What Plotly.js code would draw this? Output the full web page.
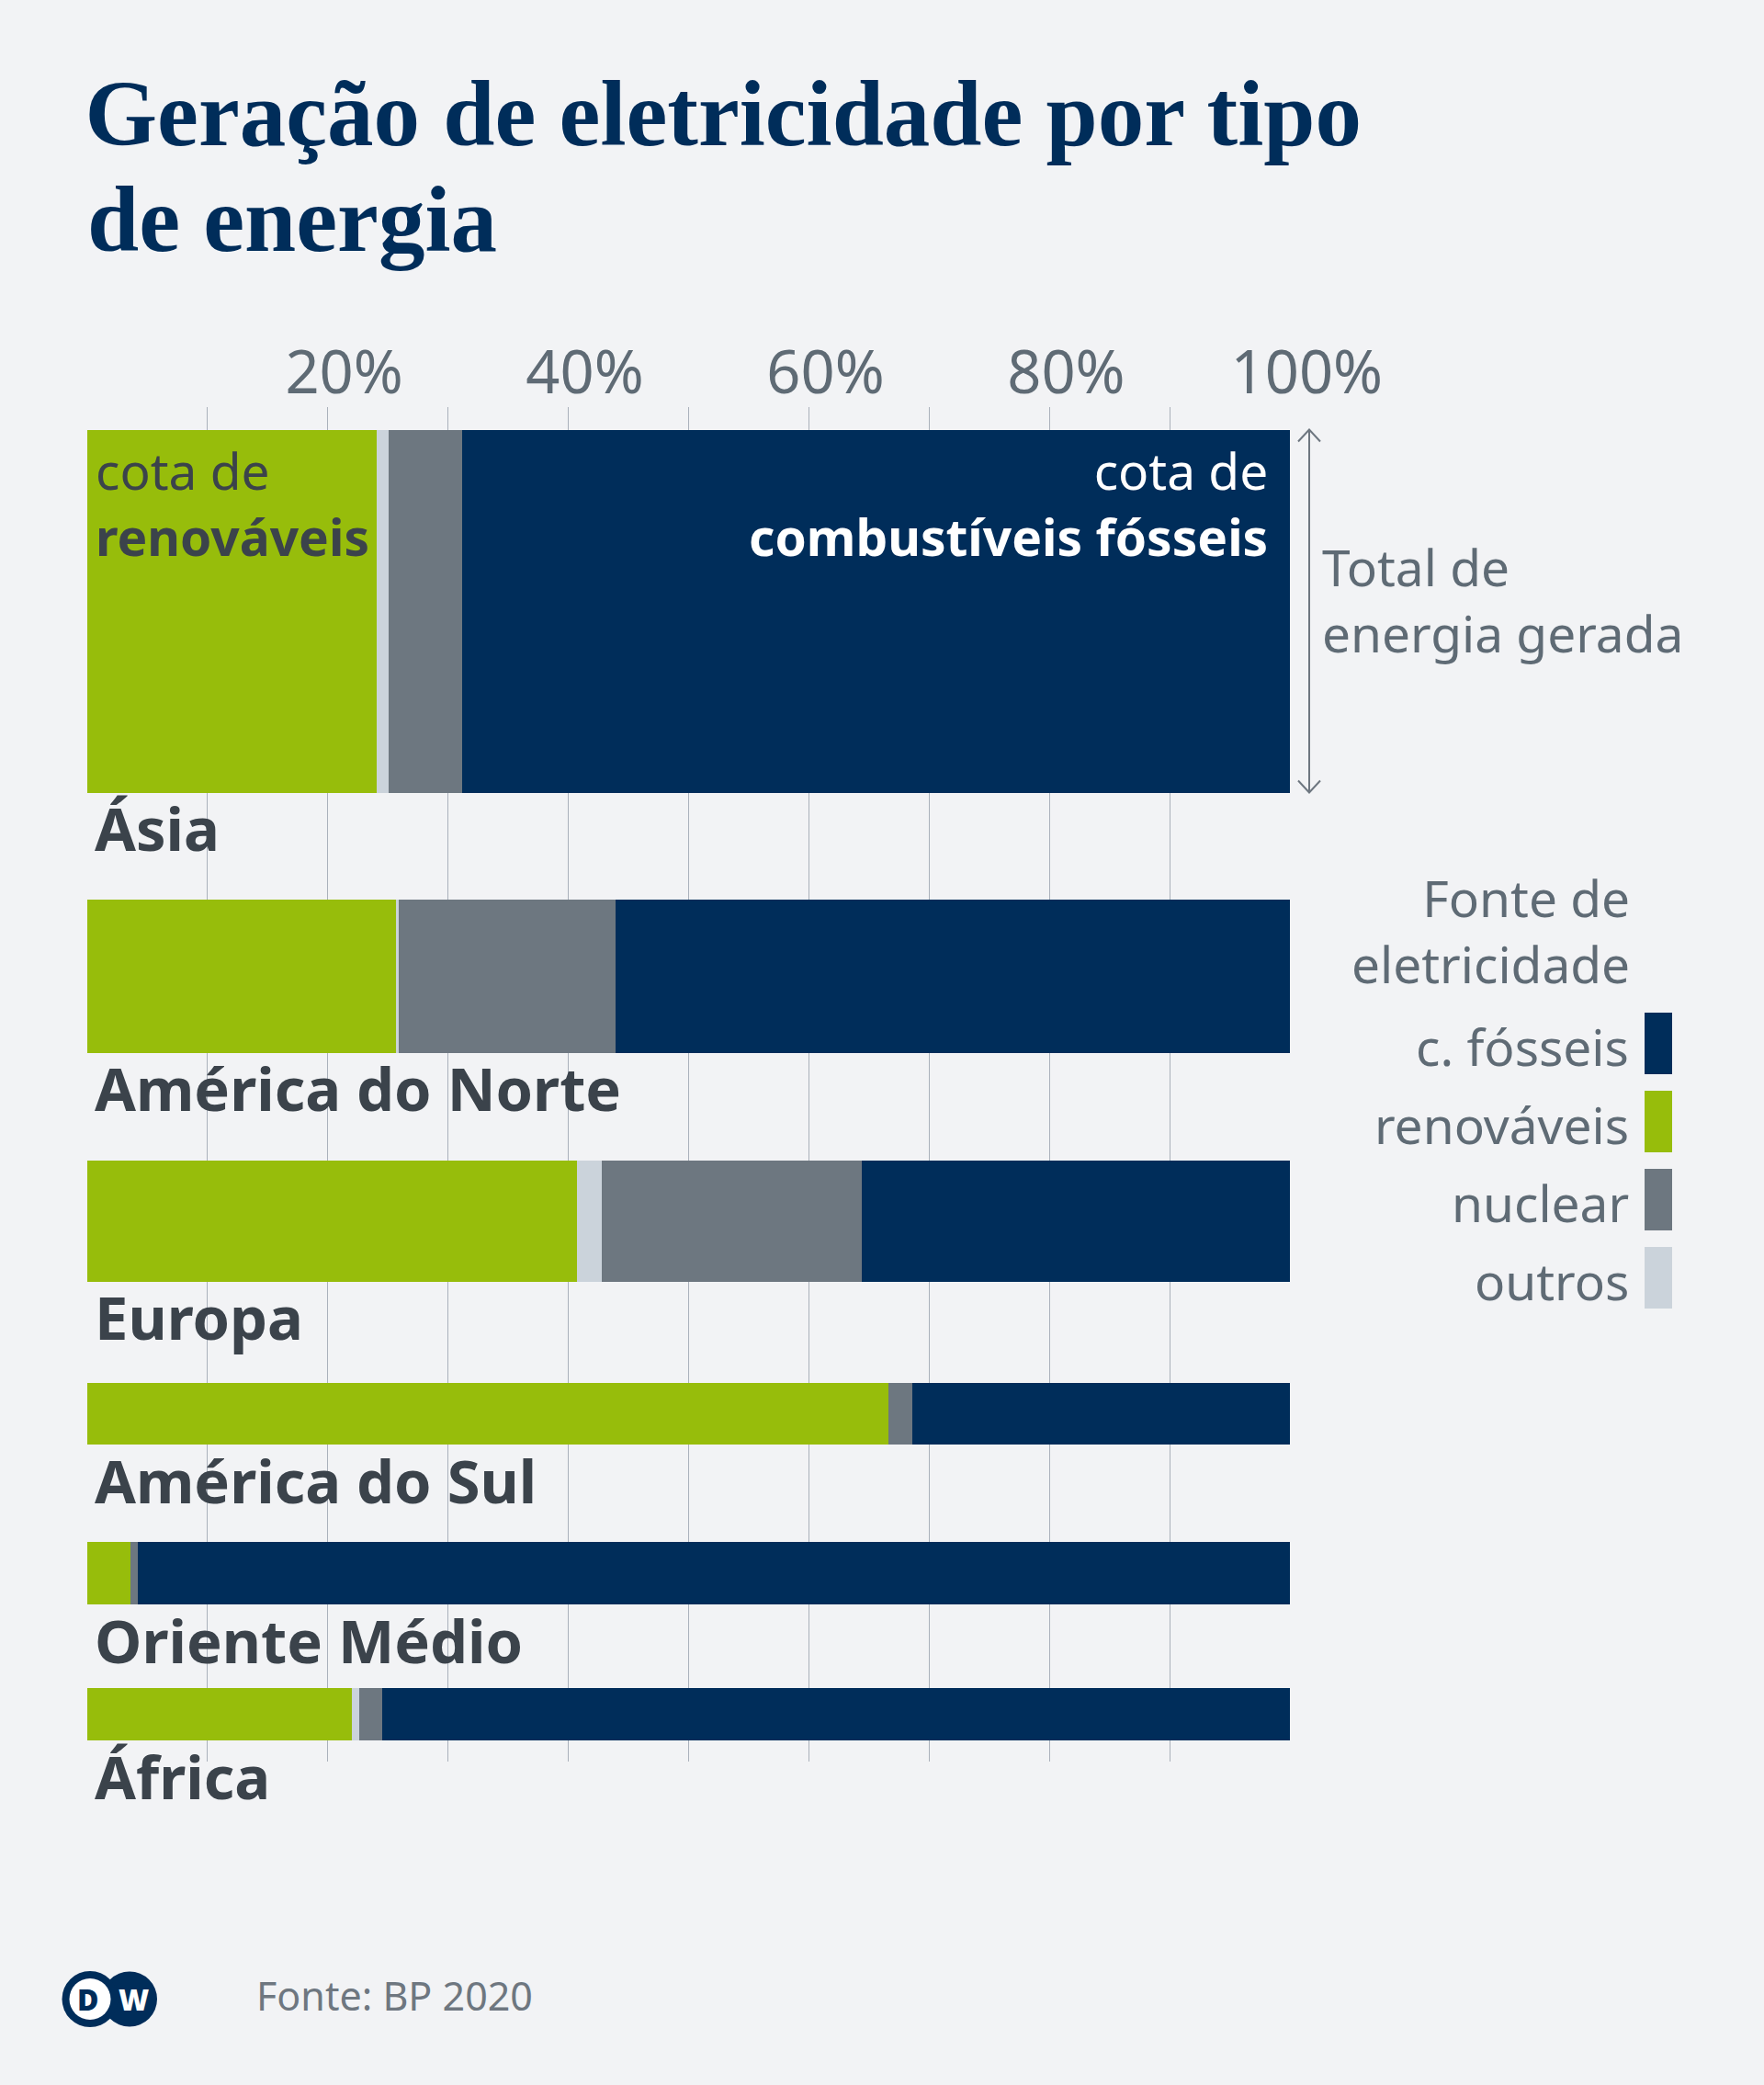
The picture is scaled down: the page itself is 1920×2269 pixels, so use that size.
<!DOCTYPE html>
<html><head><meta charset="utf-8">
<script src="https://cdn.plot.ly/plotly-3.0.1.min.js"></script>
<style>html,body{margin:0;padding:0;background:#f2f3f5;} #chart{width:1920px;height:2269px;}</style>
</head><body><div id="chart"></div>
<script>
// ---------- data ----------
const regions = ['Ásia', 'América do Norte', 'Europa', 'América do Sul', 'Oriente Médio', 'África'];
// relative total electricity generated (drawn as bar thickness), Ásia = 100
const totalRel = [100, 42.3, 33.4, 17.2, 17.2, 14.4];
// shares in % of each region's generation
const renovaveis = [24.1, 25.7, 40.7, 66.6, 3.6, 22.0];
const outros     = [1.0, 0.2, 2.1, 0.0, 0.0, 0.6];
const nuclear    = [6.1, 18.0, 21.6, 2.0, 0.6, 1.9];
const fosseis    = [68.8, 56.1, 35.6, 31.4, 95.8, 75.5];
const seriesNames = ['renováveis', 'outros', 'nuclear', 'c. fósseis'];
const tickVals = [0, 10, 20, 30, 40, 50, 60, 70, 80, 90, 100];
const tickText = ['', '', '20%', '', '40%', '', '60%', '', '80%', '', '100%'];

// ---------- layout constants ----------
const W = 1920, H = 2269;
const L = 94, R = 515, T = 443, B = 352;
const PW = W - L - R, PH = H - T - B;          // plot area in px
const pxPerUnit = 3.95;                        // bar thickness per unit of totalRel
const topPad = 24.5;
const gaps = [116, 117, 110, 106, 91];
const colors = ['#97bd0b', '#cbd3db', '#6d7780', '#002d5a'];
const darkText = '#3b434b', grayText = '#5f6b75', footGray = '#6e7780';
const FONT = 'Noto Sans';
const MID = 0.388;                              // Noto Sans: box centre above baseline (em)

const xp = X => (X - L) / PW;                   // page x -> paper x
const yp = Y => (T + PH - Y) / PH;              // page y -> paper y
const dy2p = v => (PH - v) / PH;                // y-axis (px units) -> paper

// bar geometry in y-axis units (1 unit = 1 px, measured from plot top)
const heights = totalRel.map(v => v * pxPerUnit);
const tops = [], centers = [], bottoms = [];
let cur = topPad;
heights.forEach((h, i) => {
  tops.push(cur); centers.push(cur + h / 2); bottoms.push(cur + h);
  cur += h + (gaps[i] || 0);
});

const seriesVals = [renovaveis, outros, nuclear, fosseis];
const traces = seriesVals.map((vals, k) => ({
  type: 'bar', orientation: 'h', name: seriesNames[k],
  x: vals, y: centers, width: heights,
  marker: {color: colors[k], line: {width: 0}},
  hoverinfo: 'skip', showlegend: false
}));

const ann = [];
const shapes = [];

// title second line
ann.push({text: 'de energia', xref: 'paper', yref: 'paper', x: xp(92.5), y: yp(273.3 - 0.3375 * 101),
  xanchor: 'left', yanchor: 'middle', showarrow: false,
  font: {family: 'Liberation Serif', size: 101, color: '#002d5a', weight: 'bold'}});

// region labels
regions.forEach((r, i) => {
  ann.push({text: r, xref: 'paper', yref: 'paper', x: 0, xshift: 7,
    y: dy2p(bottoms[i] + 64 - MID * 65), xanchor: 'left', yanchor: 'middle', showarrow: false,
    font: {family: FONT, size: 65, color: darkText, weight: 'bold'}});
});

// in-bar explanations (Ásia); two-line blocks centred on the mid baseline
const inSize = 55;
ann.push({text: 'cota de<br><b>renováveis</b>', xref: 'paper', yref: 'paper', x: 0, xshift: 8,
  y: dy2p(tops[0] + 101.6 - MID * inSize), xanchor: 'left', yanchor: 'middle', align: 'left',
  showarrow: false, font: {family: FONT, size: inSize, color: darkText}});
ann.push({text: 'cota de<br><b>combustíveis fósseis</b>', xref: 'paper', yref: 'paper', x: 1, xshift: -23,
  y: dy2p(tops[0] + 101.6 - MID * inSize), xanchor: 'right', yanchor: 'middle', align: 'right',
  showarrow: false, font: {family: FONT, size: inSize, color: '#ffffff'}});

// total arrow next to Ásia bar
const ax = xp(1425), hw = 12 / PW, ah = 13 / PH;
const aTop = dy2p(tops[0]), aBot = dy2p(bottoms[0]);
shapes.push({type: 'line', xref: 'paper', yref: 'paper', x0: ax, x1: ax, y0: aTop, y1: aBot,
  line: {color: footGray, width: 2}});
shapes.push({type: 'path', xref: 'paper', yref: 'paper',
  path: `M ${ax - hw},${aTop - ah} L ${ax},${aTop} L ${ax + hw},${aTop - ah}`, line: {color: footGray, width: 2}});
shapes.push({type: 'path', xref: 'paper', yref: 'paper',
  path: `M ${ax - hw},${aBot + ah} L ${ax},${aBot} L ${ax + hw},${aBot + ah}`, line: {color: footGray, width: 2}});
ann.push({text: 'Total de<br>energia gerada', xref: 'paper', yref: 'paper', x: xp(1437),
  y: yp(674.2 - MID * 55), xanchor: 'left', yanchor: 'middle', align: 'left', showarrow: false,
  font: {family: FONT, size: 55, color: grayText}});

// legend (built from the series names and colours)
ann.push({text: 'Fonte de<br>eletricidade', xref: 'paper', yref: 'paper', x: xp(1776),
  y: yp(1034.2 - MID * 55), xanchor: 'right', yanchor: 'middle', align: 'right', showarrow: false,
  font: {family: FONT, size: 55, color: grayText}});
const legendOrder = [3, 0, 2, 1];
legendOrder.forEach((k, j) => {
  const top = 1102 + 85 * j;
  shapes.push({type: 'rect', xref: 'paper', yref: 'paper', x0: xp(1790), x1: xp(1820),
    y0: yp(top), y1: yp(top + 67), fillcolor: colors[k], line: {width: 0}});
  ann.push({text: seriesNames[k], xref: 'paper', yref: 'paper', x: xp(1775), y: yp(top + 58 - MID * 55),
    xanchor: 'right', yanchor: 'middle', showarrow: false, font: {family: FONT, size: 55, color: grayText}});
});

// footer
ann.push({text: 'Fonte: BP 2020', xref: 'paper', yref: 'paper', x: xp(277), y: yp(2188 - MID * 43),
  xanchor: 'left', yanchor: 'middle', showarrow: false, font: {family: FONT, size: 43, color: footGray}});
// DW logo
function circle(cx, cy, r, col) {
  return {type: 'circle', xref: 'paper', yref: 'paper', xsizemode: 'pixel', ysizemode: 'pixel',
    xanchor: xp(cx), yanchor: yp(cy), x0: -r, x1: r, y0: -r, y1: r, fillcolor: col, line: {width: 0}};
}
shapes.push(circle(141, 2175.5, 30, '#002d5a'));
shapes.push(circle(98, 2175.5, 30.5, '#002d5a'));
shapes.push(circle(98, 2175.5, 22.5, '#ffffff'));
ann.push({text: 'D', xref: 'paper', yref: 'paper', x: xp(96), y: yp(2175.5), xanchor: 'center', yanchor: 'middle',
  showarrow: false, font: {family: FONT, size: 32, color: '#002d5a', weight: 900}});
ann.push({text: 'W', xref: 'paper', yref: 'paper', x: xp(145), y: yp(2175.5), xanchor: 'center', yanchor: 'middle',
  showarrow: false, font: {family: FONT, size: 32, color: '#ffffff', weight: 900}});

const layout = {
  width: W, height: H,
  paper_bgcolor: '#f2f3f5', plot_bgcolor: '#f2f3f5',
  margin: {l: L, r: R, t: T, b: B, pad: 0},
  barmode: 'stack', bargap: 0,
  showlegend: false,
  font: {family: FONT, color: darkText},
  title: {text: 'Geração de eletricidade por tipo', xref: 'container', yref: 'container',
    x: 92.5 / W, xanchor: 'left', y: 1 - 87.6 / H, yanchor: 'top', pad: {t: 0, b: 0, l: 0, r: 0},
    font: {family: 'Liberation Serif', size: 101, color: '#002d5a', weight: 'bold'}},
  xaxis: {range: [-0.05, 100.05], side: 'top', tickmode: 'array', tickvals: tickVals, ticktext: tickText,
    showgrid: true, gridcolor: '#aab1bb', gridwidth: 1, zeroline: false, showline: false, ticks: '',
    tickfont: {family: FONT, size: 65, color: grayText}, ticklabelshift: 18, ticklabelstandoff: 1,
    fixedrange: true},
  yaxis: {range: [PH, 0], showgrid: false, zeroline: false, showline: false, showticklabels: false,
    ticks: '', fixedrange: true},
  annotations: ann,
  shapes: shapes
};

Plotly.newPlot('chart', traces, layout, {staticPlot: true, displayModeBar: false});
</script>
</body></html>
